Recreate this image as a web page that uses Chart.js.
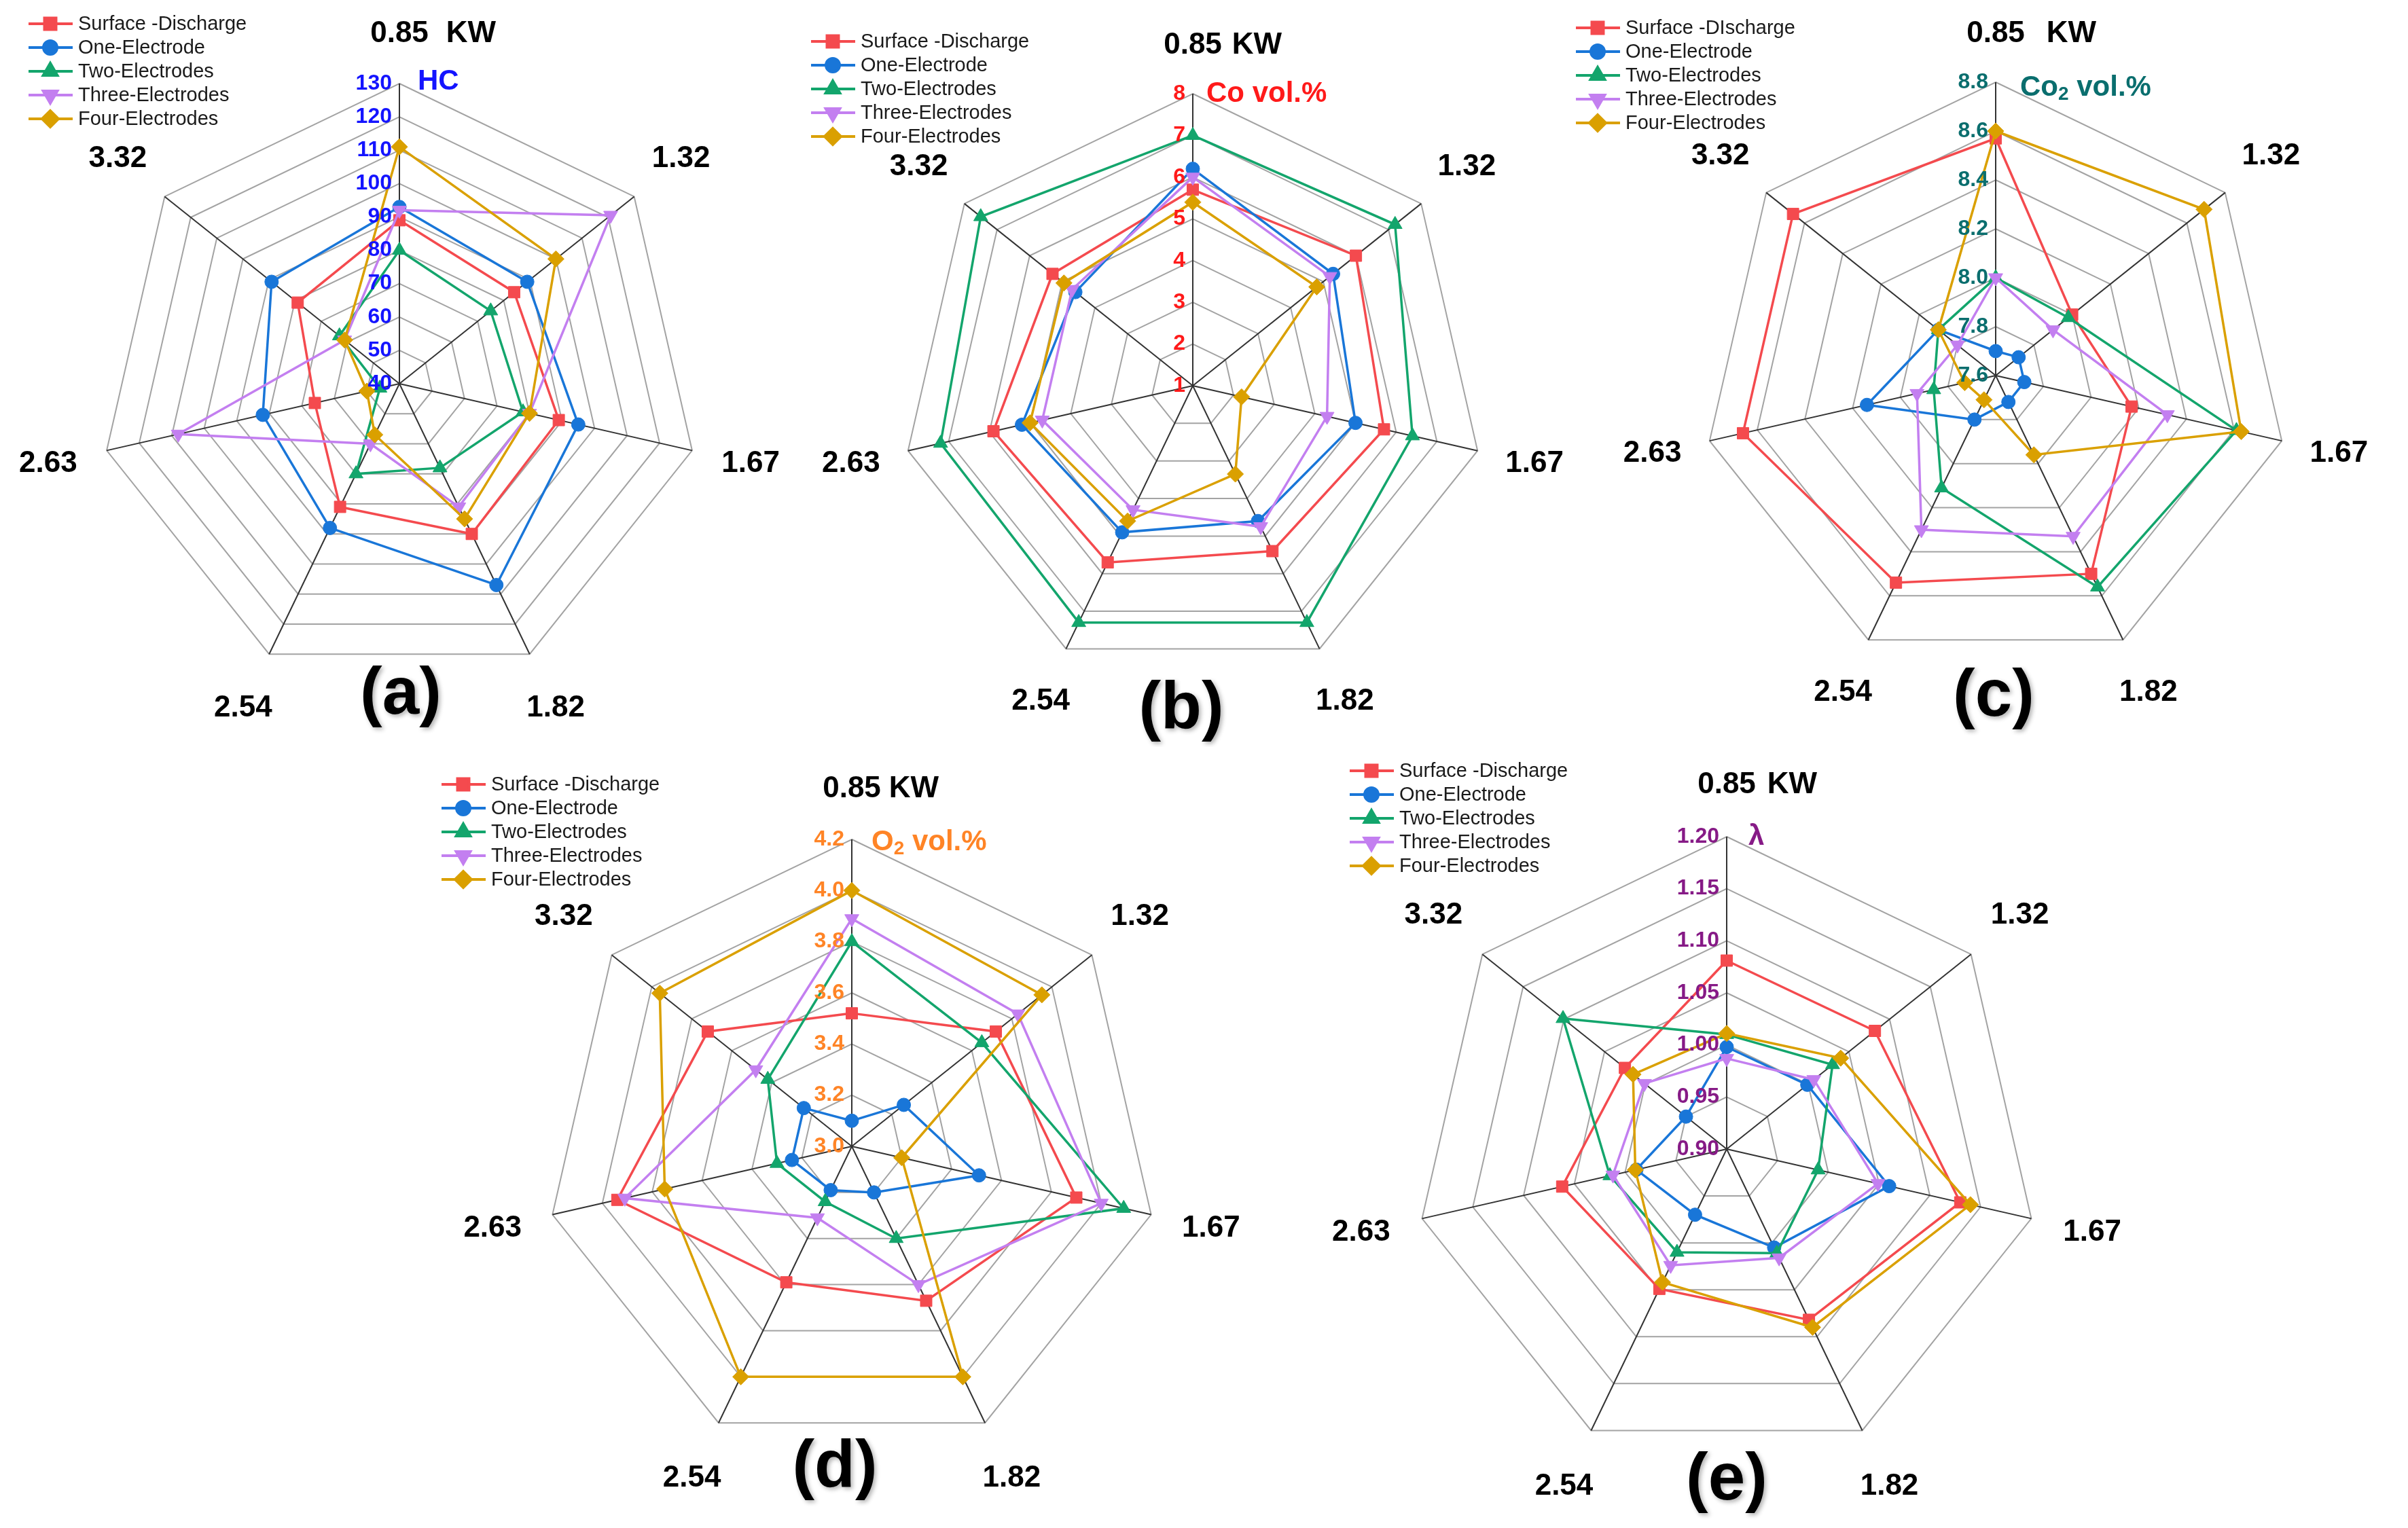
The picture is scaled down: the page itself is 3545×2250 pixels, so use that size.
<!DOCTYPE html>
<html>
<head>
<meta charset="utf-8">
<script src="https://cdn.jsdelivr.net/npm/chart.js@4.4.1/dist/chart.umd.min.js"></script>
<style>
  html, body { margin: 0; padding: 0; background: #fff; }
  #page { position: relative; width: 3545px; height: 2250px; overflow: hidden; background: #fff; }
  #page canvas { position: absolute; }
</style>
</head>
<body>
<div id="page"></div>
<script>
const categories = ['0.85', '1.32', '1.67', '1.82', '2.54', '2.63', '3.32'];
const seriesNames = ['Surface -Discharge', 'One-Electrode', 'Two-Electrodes', 'Three-Electrodes', 'Four-Electrodes'];
// panel (c) has its own spelling in the legend
const seriesNamesC = ['Surface -DIscharge', 'One-Electrode', 'Two-Electrodes', 'Three-Electrodes', 'Four-Electrodes'];

// (a) HC
const hcSurface = [89, 84, 89, 90, 81, 66, 79];
const hcOne = [93, 89, 95, 107, 88, 82, 89];
const hcTwo = [80, 75, 78, 68, 70, 46, 63];
const hcThree = [92, 121, 80, 81, 60, 108, 61];
const hcFour = [111, 100, 80, 85, 57, 50, 61];
const hcTicks = ['40', '50', '60', '70', '80', '90', '100', '110', '120', '130'];

// (b) CO vol.%
const coSurface = [5.7, 6.0, 5.7, 5.4, 5.7, 5.9, 5.3];
const coOne = [6.2, 5.3, 5.0, 4.6, 4.9, 5.2, 4.6];
const coTwo = [7.0, 7.2, 6.4, 7.3, 7.3, 7.2, 7.5];
const coThree = [6.0, 5.2, 4.3, 4.75, 4.3, 4.7, 4.7];
const coFour = [5.4, 4.8, 2.2, 3.35, 4.6, 5.0, 4.95];
const coTicks = ['1', '2', '3', '4', '5', '6', '7', '8'];

// (c) CO2 vol.%
const co2Surface = [8.57, 8.0, 8.17, 8.5, 8.54, 8.66, 8.66];
const co2One = [7.70, 7.72, 7.72, 7.72, 7.80, 8.14, 7.90];
const co2Two = [8.0, 7.98, 8.61, 8.56, 8.11, 7.86, 7.90];
const co2Three = [8.0, 7.90, 8.32, 8.33, 8.30, 7.93, 7.80];
const co2Four = [8.60, 8.69, 8.63, 7.96, 7.71, 7.73, 7.90];
const co2Ticks = ['7.6', '7.8', '8.0', '8.2', '8.4', '8.6', '8.8'];

// (d) O2 vol.%
const o2Surface = [3.52, 3.72, 3.90, 3.67, 3.59, 3.94, 3.72];
const o2One = [3.10, 3.26, 3.51, 3.20, 3.19, 3.24, 3.24];
const o2Two = [3.80, 3.65, 4.09, 3.40, 3.24, 3.30, 3.42];
const o2Three = [3.89, 3.83, 4.00, 3.60, 3.31, 3.91, 3.48];
const o2Four = [4.00, 3.95, 3.20, 4.00, 4.00, 3.75, 3.96];
const o2Ticks = ['3.0', '3.2', '3.4', '3.6', '3.8', '4.0', '4.2'];

// (e) lambda
const lambdaSurface = [1.081, 1.082, 1.130, 1.082, 1.049, 1.062, 1.025];
const lambdaOne = [0.998, 0.999, 1.060, 1.005, 0.970, 0.989, 0.950];
const lambdaTwo = [1.010, 1.030, 0.990, 1.011, 1.010, 1.015, 1.101];
const lambdaThree = [0.987, 1.007, 1.049, 1.016, 1.024, 1.012, 1.001];
const lambdaFour = [1.011, 1.040, 1.140, 1.090, 1.042, 0.990, 1.015];
const lambdaTicks = ['0.90', '0.95', '1.00', '1.05', '1.10', '1.15', '1.20'];

const FONT = '"Liberation Sans", Arial, Helvetica, sans-serif';

const seriesStyle = [
  { color: '#f44a4e', pointStyle: 'rect', radius: 12, rotation: 0 },
  { color: '#1976d8', pointStyle: 'circle', radius: 10, rotation: 0 },
  { color: '#13a56c', pointStyle: 'triangle', radius: 12, rotation: 0 },
  { color: '#c37ff0', pointStyle: 'triangle', radius: 12, rotation: 180 },
  { color: '#daa000', pointStyle: 'rectRot', radius: 12, rotation: 0 },
];

const panels = [
  {
    letter: '(a)', box: [0, 0, 1175, 1100], center: [588, 565], radius: 442,
    series: [hcSurface, hcOne, hcTwo, hcThree, hcFour], names: seriesNames,
    ticks: hcTicks, color: '#1414ff', unit: [['HC']], unitShift: [27, -3],
    kwGap: 26, legendAt: [42, 35], letterAt: [590, 1024],
  },
  {
    letter: '(b)', box: [1175, 0, 1140, 1100], center: [1756, 568], radius: 430,
    series: [coSurface, coOne, coTwo, coThree, coFour], names: seriesNames,
    ticks: coTicks, color: '#ff1a1a', unit: [['Co vol.%']], unitShift: [20, 0],
    kwGap: 15, legendAt: [1194, 61], letterAt: [1739, 1045],
  },
  {
    letter: '(c)', box: [2315, 0, 1230, 1100], center: [2938, 553], radius: 432,
    series: [co2Surface, co2One, co2Two, co2Three, co2Four], names: seriesNamesC,
    ticks: co2Ticks, color: '#0a6e6e', unit: [['Co'], ['2', true], [' vol.%']], unitShift: [36, 8],
    kwGap: 32, legendAt: [2320, 41], letterAt: [2935, 1027],
  },
  {
    letter: '(d)', box: [560, 1100, 1340, 1150], center: [1254, 1688], radius: 452,
    series: [o2Surface, o2One, o2Two, o2Three, o2Four], names: seriesNames,
    ticks: o2Ticks, color: '#ff8426', unit: [['O'], ['2', true], [' vol.%']], unitShift: [29, 4],
    kwGap: 12, legendAt: [650, 1155], letterAt: [1229, 2162],
  },
  {
    letter: '(e)', box: [1900, 1100, 1340, 1150], center: [2542, 1692], radius: 460,
    series: [lambdaSurface, lambdaOne, lambdaTwo, lambdaThree, lambdaFour], names: seriesNames,
    ticks: lambdaTicks, color: '#861a86', unit: [['λ']], unitShift: [32, 0],
    kwGap: 17, legendAt: [1987, 1135], letterAt: [2542, 2181],
  },
];

// labels, ticks, unit name, legend and panel letter
const panelDecor = {
  id: 'panelDecor',
  afterDraw(chart, args, opts) {
    const { ctx } = chart;
    const scale = chart.scales.r;
    const r = scale.drawingArea;
    ctx.save();
    ctx.textBaseline = 'middle';

    ctx.fillStyle = '#000';
    ctx.font = `bold 44px ${FONT}`;
    chart.data.labels.forEach((label, i) => {
      const pos = scale.getPointPosition(i, r * (i === 0 ? 1.165 : 1.2));
      ctx.textAlign = 'center';
      ctx.fillText(label, pos.x, pos.y);
      if (i === 0) {
        const w = ctx.measureText(label).width;
        ctx.textAlign = 'left';
        ctx.fillText('KW', pos.x + w / 2 + opts.kwGap, pos.y);
      }
    });

    ctx.fillStyle = opts.color;
    ctx.font = `bold 32px ${FONT}`;
    ctx.textAlign = 'right';
    opts.ticks.forEach((t) => {
      const pos = scale.getPointPositionForValue(0, parseFloat(t));
      ctx.fillText(t, pos.x - 11, pos.y);
    });

    const top = scale.getPointPositionForValue(0, scale.max);
    let x = top.x + opts.unitShift[0];
    const y = top.y + opts.unitShift[1];
    ctx.textAlign = 'left';
    opts.unit.forEach(([text, sub]) => {
      ctx.font = sub ? `bold 28px ${FONT}` : `bold 42px ${FONT}`;
      ctx.fillText(text, x, sub ? y + 10 : y);
      x += ctx.measureText(text).width;
    });

    // legend: short line with the marker in its middle
    const [lx, ly] = opts.legendAt;
    chart.data.datasets.forEach((ds, i) => {
      const yy = ly + i * 35;
      ctx.strokeStyle = ds.borderColor;
      ctx.fillStyle = ds.borderColor;
      ctx.lineWidth = 4;
      ctx.beginPath();
      ctx.moveTo(lx, yy);
      ctx.lineTo(lx + 65, yy);
      ctx.stroke();
      Chart.helpers.drawPoint(ctx, {
        pointStyle: ds.pointStyle, rotation: ds.pointRotation, radius: ds.pointRadius, borderWidth: 1,
      }, lx + 32, yy);
      ctx.fillStyle = '#1a1a1a';
      ctx.font = `29px ${FONT}`;
      ctx.fillText(ds.label, lx + 73, yy + 1);
    });

    ctx.fillStyle = '#000';
    ctx.textAlign = 'center';
    ctx.font = `bold 98px ${FONT}`;
    ctx.shadowColor = 'rgba(0, 0, 0, 0.3)';
    ctx.shadowBlur = 6;
    ctx.shadowOffsetX = 3;
    ctx.shadowOffsetY = 3;
    ctx.fillText(opts.letter, opts.letterAt[0], opts.letterAt[1]);
    ctx.restore();
  },
};

const page = document.getElementById('page');

panels.forEach((p) => {
  const [bx, by, bw, bh] = p.box;
  const cx = p.center[0] - bx;
  const cy = p.center[1] - by;
  const canvas = document.createElement('canvas');
  canvas.width = bw;
  canvas.height = bh;
  canvas.style.left = bx + 'px';
  canvas.style.top = by + 'px';
  page.appendChild(canvas);

  const tickValues = p.ticks.map(Number);

  new Chart(canvas.getContext('2d'), {
    type: 'radar',
    data: {
      labels: categories,
      datasets: p.series.map((data, i) => ({
        label: p.names[i],
        data,
        borderColor: seriesStyle[i].color,
        backgroundColor: seriesStyle[i].color,
        pointBackgroundColor: seriesStyle[i].color,
        pointBorderColor: seriesStyle[i].color,
        pointStyle: seriesStyle[i].pointStyle,
        pointRadius: seriesStyle[i].radius,
        pointRotation: seriesStyle[i].rotation,
        pointBorderWidth: 1,
        borderWidth: 3.5,
        fill: false,
        order: 4 - i,
      })),
    },
    options: {
      responsive: false,
      animation: false,
      devicePixelRatio: 1,
      layout: {
        padding: {
          left: cx - p.radius,
          right: bw - cx - p.radius,
          top: cy - p.radius,
          bottom: bh - cy - p.radius,
        },
      },
      plugins: {
        legend: { display: false },
        tooltip: { enabled: false },
        panelDecor: {
          ticks: p.ticks, color: p.color, unit: p.unit, unitShift: p.unitShift,
          kwGap: p.kwGap,
          legendAt: [p.legendAt[0] - bx, p.legendAt[1] - by],
          letter: p.letter,
          letterAt: [p.letterAt[0] - bx, p.letterAt[1] - by],
        },
      },
      scales: {
        r: {
          min: tickValues[0],
          max: tickValues[tickValues.length - 1],
          afterBuildTicks: (scale) => {
            scale.ticks = tickValues.map((v) => ({ value: v }));
          },
          ticks: { display: false },
          pointLabels: { display: false },
          grid: { color: '#a3a3a3', lineWidth: 2 },
          angleLines: { color: '#333333', lineWidth: 2 },
        },
      },
    },
    plugins: [panelDecor],
  });
});
</script>
</body>
</html>
